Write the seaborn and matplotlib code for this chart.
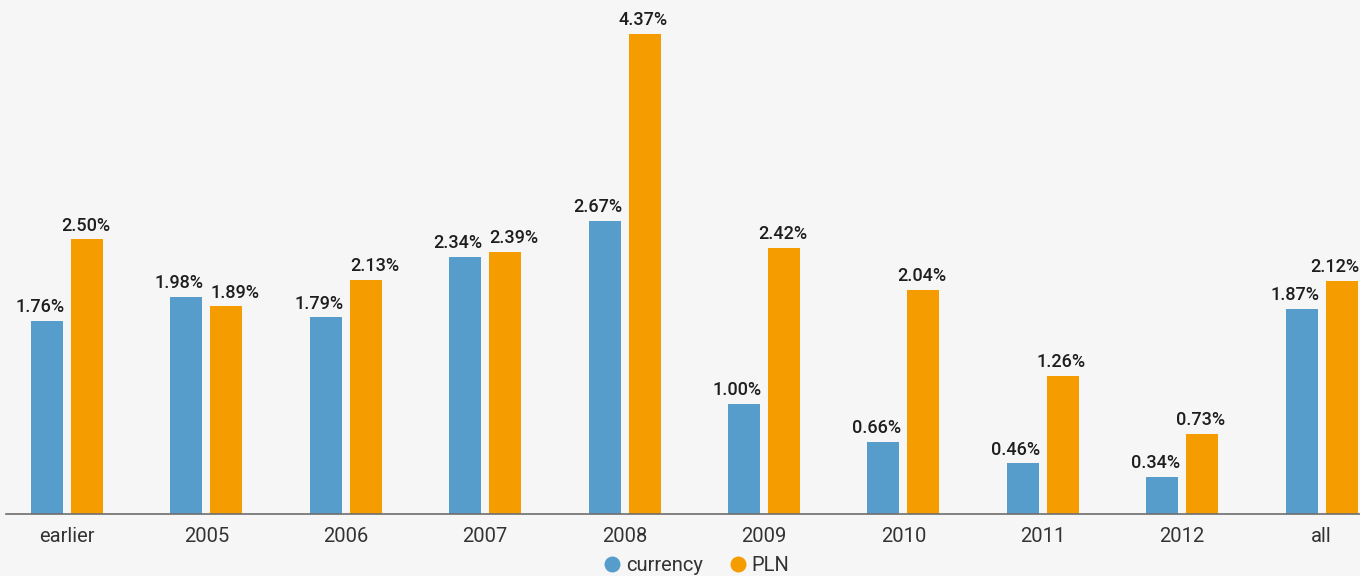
import matplotlib
matplotlib.use("Agg")
import matplotlib.pyplot as plt
from matplotlib.lines import Line2D
import seaborn as sns
import pandas as pd

categories = ["earlier", "2005", "2006", "2007", "2008", "2009", "2010", "2011", "2012", "all"]
currency = [1.76, 1.98, 1.79, 2.34, 2.67, 1.00, 0.66, 0.46, 0.34, 1.87]
pln = [2.50, 1.89, 2.13, 2.39, 4.37, 2.42, 2.04, 1.26, 0.73, 2.12]
series = ["currency", "PLN"]
colors = {"currency": "#579dcc", "PLN": "#f59d00"}

df = pd.DataFrame({
    "period": categories * 2,
    "rate": currency + pln,
    "series": ["currency"] * len(categories) + ["PLN"] * len(categories),
})

sns.set_theme(style="white")
plt.rcParams["font.family"] = ["Roboto", "DejaVu Sans"]
bg = "#f6f6f6"

fig = plt.figure(figsize=(13.6, 5.76), dpi=100, facecolor=bg)
ax = fig.add_axes([0.0, 0.1076, 1.0, 0.8924], facecolor=bg)

sns.barplot(data=df, x="period", y="rate", hue="series", hue_order=series,
            order=categories, palette=colors, saturation=1, width=0.574,
            gap=0.2, linewidth=0, legend=False, ax=ax)

x_right = 9.275
ax.set_xlim(-0.48, x_right)
ax.set_ylim(0, 4.68)

label_kw = dict(fontsize=13, fontweight="medium", color="#1e1e1e",
                va="bottom", textcoords="offset points")
cur_bars, pln_bars = ax.containers[0], ax.containers[1]
for bc, bp, vc, vp in zip(cur_bars, pln_bars, currency, pln):
    # currency value: right-aligned with its bar
    ax.annotate(f"{vc:.2f}%", (bc.get_x() + bc.get_width(), vc),
                xytext=(1, 3.5), ha="right", **label_kw)
    # PLN value: centred, pushed right when the two values are close,
    # kept inside the figure at the right edge
    if bp.get_x() + bp.get_width() > x_right - 0.15:
        ax.annotate(f"{vp:.2f}%", (bp.get_x() + bp.get_width(), vp),
                    xytext=(1, 3.5), ha="right", **label_kw)
    elif abs(vp - vc) < 0.35:
        ax.annotate(f"{vp:.2f}%", (bp.get_x(), vp), xytext=(0, 3.5),
                    ha="left", **label_kw)
    else:
        ax.annotate(f"{vp:.2f}%", (bp.get_x() + bp.get_width() / 2, vp),
                    xytext=(-1, 3.5), ha="center", **label_kw)

ax.set_xlabel("")
ax.set_ylabel("")
ax.set_yticks([])
for s in ["top", "right", "left"]:
    ax.spines[s].set_visible(False)
ax.spines["bottom"].set_color("#6e6e6e")
ax.spines["bottom"].set_linewidth(1.2)
ax.spines["bottom"].set_bounds(-0.44, x_right)
ax.tick_params(axis="x", length=0, pad=9, labelsize=14.5, labelcolor="#333333")

handles = [Line2D([], [], marker="o", linestyle="", markersize=11.5,
                  markerfacecolor=colors[s], markeredgewidth=0) for s in series]
fig.legend(handles, series, loc="center", bbox_to_anchor=(0.508, 0.019),
           ncol=2, frameon=False, fontsize=14.5, handletextpad=-0.3,
           columnspacing=0.7, labelcolor="#333333")

fig.savefig("out.png", dpi=100, facecolor=bg)
